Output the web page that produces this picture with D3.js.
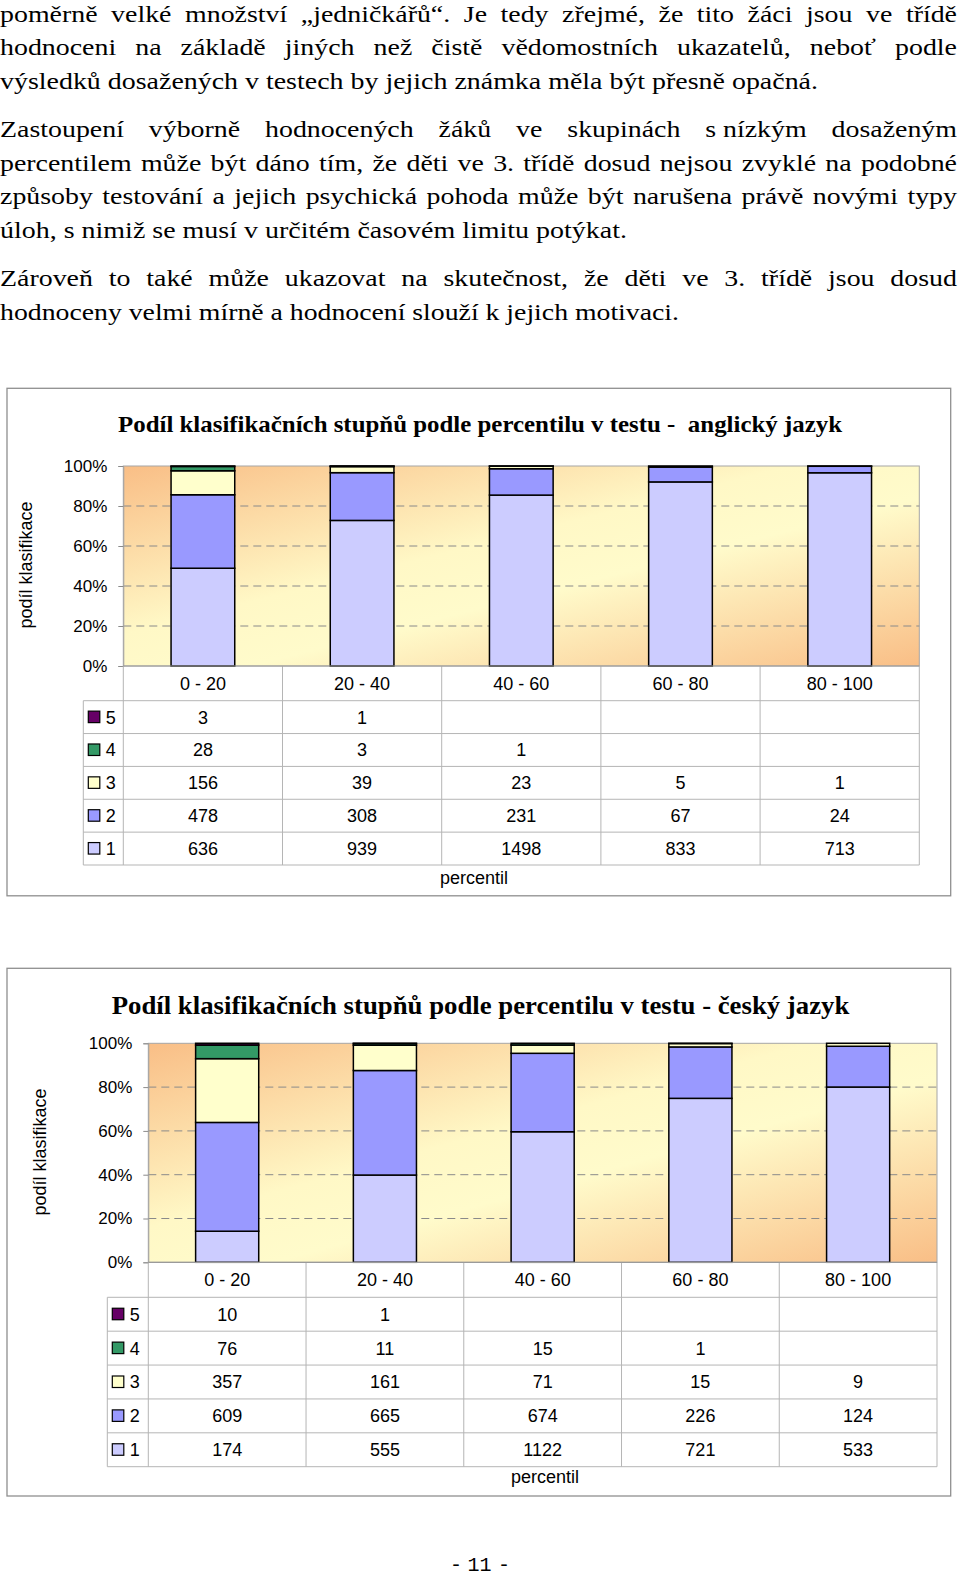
<!DOCTYPE html>
<html><head><meta charset="utf-8">
<script src="https://cdn.jsdelivr.net/npm/d3@7"></script>
<style>body{margin:0;background:#fff} svg{display:block}</style>
</head><body>
<svg id="page" width="960" height="1578"></svg>
<script>
// ---------------- data ----------------
const categories = ["0 - 20", "20 - 40", "40 - 60", "60 - 80", "80 - 100"];
const gradeKeys = ["1", "2", "3", "4", "5"];
const tableOrder = ["5", "4", "3", "2", "1"];

const enGrade1 = [636, 939, 1498, 833, 713];
const enGrade2 = [478, 308, 231, 67, 24];
const enGrade3 = [156, 39, 23, 5, 1];
const enGrade4 = [28, 3, 1, null, null];
const enGrade5 = [3, 1, null, null, null];

const csGrade1 = [174, 555, 1122, 721, 533];
const csGrade2 = [609, 665, 674, 226, 124];
const csGrade3 = [357, 161, 71, 15, 9];
const csGrade4 = [76, 11, 15, 1, null];
const csGrade5 = [10, 1, null, null, null];

const yTickValues = [0, 0.2, 0.4, 0.6, 0.8, 1];
const titleEn = "Podíl klasifikačních stupňů podle percentilu v testu -  anglický jazyk";
const titleCs = "Podíl klasifikačních stupňů podle percentilu v testu - český jazyk";
const yAxisTitle = "podíl klasifikace";
const xAxisTitle = "percentil";
const pageNumberParts = ["-", "11", "-"];

const bodyParagraphs = [
  ["poměrně velké množství „jedničkářů“. Je tedy zřejmé, že tito žáci jsou ve třídě",
   "hodnoceni na základě jiných než čistě vědomostních ukazatelů, neboť podle",
   "výsledků dosažených v testech by jejich známka měla být přesně opačná."],
  ["Zastoupení výborně hodnocených žáků ve skupinách s\u00A0nízkým dosaženým",
   "percentilem může být dáno tím, že děti ve 3. třídě dosud nejsou zvyklé na podobné",
   "způsoby testování a jejich psychická pohoda může být narušena právě novými typy",
   "úloh, s nimiž se musí v určitém časovém limitu potýkat."],
  ["Zároveň to také může ukazovat na skutečnost, že děti ve 3. třídě jsou dosud",
   "hodnoceny velmi mírně a hodnocení slouží k jejich motivaci."]
];

// ---------------- styles ----------------
const gradeColor = {"1": "#CCCCFF", "2": "#9999FF", "3": "#FFFFCC", "4": "#339966", "5": "#660066"};
const sans = "'Liberation Sans', Arial, sans-serif";
const serif = "'Liberation Serif', 'Times New Roman', serif";

const svg = d3.select("#page");
const defs = svg.append("defs");
const grad = defs.append("linearGradient").attr("id", "plotBg")
  .attr("x1", 0).attr("y1", 0).attr("x2", 1).attr("y2", 1);
grad.append("stop").attr("offset", 0).attr("stop-color", "#F9BE86");
grad.append("stop").attr("offset", 0.42).attr("stop-color", "#FFF8C6");
grad.append("stop").attr("offset", 0.58).attr("stop-color", "#FFFBCB");
grad.append("stop").attr("offset", 1).attr("stop-color", "#F9BE86");

// ---------------- body text ----------------
(function drawBody() {
  const lastLineWidths = [818, 627, 679];
  const fullWidth = 957;
  const g = svg.append("g").attr("font-family", serif).attr("font-size", 23).attr("fill", "#000");
  const meas = g.append("text").attr("x", -2000).attr("y", -100).style("white-space", "pre");
  const w = s => { meas.text(s); return meas.node().getComputedTextLength(); };
  const k = d3.mean(bodyParagraphs.map((p, i) => lastLineWidths[i] / w(p[p.length - 1])));
  let yb = 21.7;
  bodyParagraphs.forEach((p, pi) => {
    p.forEach((line, li) => {
      if (li === p.length - 1) {
        g.append("text").attr("x", 0).attr("y", yb)
          .attr("textLength", lastLineWidths[pi]).attr("lengthAdjust", "spacingAndGlyphs").text(line);
      } else {
        const words = line.split(" ");
        const ws = words.map(s => w(s) * k);
        const gap = (fullWidth - d3.sum(ws)) / (words.length - 1);
        let x = 0;
        words.forEach((s, j) => {
          g.append("text").attr("x", x).attr("y", yb)
            .attr("textLength", ws[j]).attr("lengthAdjust", "spacingAndGlyphs").text(s);
          x += ws[j] + gap;
        });
      }
      yb += 33.6;
    });
    yb += 14.7;
  });
  meas.remove();
})();

// ---------------- chart ----------------
function drawChart(cfg) {
  const series = cfg.series;
  const rows = categories.map((c, i) => {
    const r = {cat: c};
    gradeKeys.forEach(k => r[k] = series[k][i] || 0);
    return r;
  });
  const stacked = d3.stack().keys(gradeKeys).offset(d3.stackOffsetExpand)(rows);

  const g = svg.append("g");
  g.append("rect").attr("x", cfg.box[0]).attr("y", cfg.box[1]).attr("width", cfg.box[2]).attr("height", cfg.box[3])
    .attr("fill", "#fff").attr("stroke", "#8f8f8f").attr("stroke-width", 1.3);

  const x = d3.scaleBand().domain(categories).range([cfg.x0, cfg.x1]).padding(0);
  const y = d3.scaleLinear().domain([0, 1]).range([cfg.yBottom, cfg.yTop]);
  const barW = x.bandwidth() * 0.4;

  g.append("rect").attr("x", cfg.x0).attr("y", cfg.yTop).attr("width", cfg.x1 - cfg.x0).attr("height", cfg.yBottom - cfg.yTop)
    .attr("fill", "url(#plotBg)").attr("stroke", "#a6a6a6").attr("stroke-width", 1);

  g.append("g").selectAll("line").data(yTickValues.filter(d => d > 0 && d < 1)).join("line")
    .attr("x1", cfg.x0).attr("x2", cfg.x1).attr("y1", d => y(d)).attr("y2", d => y(d))
    .attr("stroke", "#8a8a8a").attr("stroke-width", 1).attr("stroke-dasharray", "8,5");

  const ax = g.append("g").attr("transform", `translate(${cfg.x0},0)`)
    .call(d3.axisLeft(y).tickValues(yTickValues).tickFormat(d3.format(".0%")).tickSize(5).tickPadding(11));
  ax.select(".domain").attr("stroke", "#a6a6a6");
  ax.selectAll(".tick line").attr("stroke", "#8a8a8a");
  ax.selectAll(".tick text").attr("font-family", sans).attr("font-size", 17).attr("fill", "#000");

  g.append("g").selectAll("g").data(stacked).join("g")
    .attr("fill", d => gradeColor[d.key])
    .selectAll("rect").data(d => d.filter(s => s[1] - s[0] > 0)).join("rect")
    .attr("x", d => x(d.data.cat) + (x.bandwidth() - barW) / 2)
    .attr("width", barW)
    .attr("y", d => y(d[1]))
    .attr("height", d => y(d[0]) - y(d[1]))
    .attr("stroke", "#000").attr("stroke-width", 1.5);

  g.append("text").attr("x", cfg.titleX).attr("y", cfg.titleY)
    .attr("font-family", serif).attr("font-weight", "bold").attr("font-size", cfg.titleSize)
    .style("white-space", "pre")
    .attr("textLength", cfg.titleW).attr("lengthAdjust", "spacingAndGlyphs")
    .text(cfg.title);

  g.append("text").attr("transform", `translate(${cfg.yTitle[0]},${cfg.yTitle[1]}) rotate(-90)`)
    .attr("text-anchor", "middle").attr("dy", "0.35em")
    .attr("font-family", sans).attr("font-size", 18).text(yAxisTitle);

  const hdrBottom = cfg.hdrBottom;
  const rowH = cfg.rowH;
  const tBottom = hdrBottom + rowH * tableOrder.length;
  const tg = g.append("g").attr("stroke", "#b5b5b5").attr("stroke-width", 1);
  d3.range(tableOrder.length + 1).forEach(i => {
    tg.append("line").attr("x1", cfg.tLeft).attr("x2", cfg.x1)
      .attr("y1", hdrBottom + i * rowH).attr("y2", hdrBottom + i * rowH);
  });
  const bounds = categories.map(c => x(c)).concat([cfg.x1]);
  bounds.forEach(bx => {
    tg.append("line").attr("x1", bx).attr("x2", bx).attr("y1", cfg.yBottom).attr("y2", tBottom);
  });
  tg.append("line").attr("x1", cfg.tLeft).attr("x2", cfg.tLeft).attr("y1", hdrBottom).attr("y2", tBottom);
  g.append("line").attr("x1", cfg.x0).attr("x2", cfg.x1).attr("y1", cfg.yBottom).attr("y2", cfg.yBottom)
    .attr("stroke", "#9a9a9a").attr("stroke-width", 1.2);

  g.append("g").selectAll("text").data(categories).join("text")
    .attr("x", d => x(d) + x.bandwidth() / 2)
    .attr("y", (cfg.yBottom + hdrBottom) / 2).attr("dy", "0.36em")
    .attr("text-anchor", "middle").attr("font-family", sans).attr("font-size", 18).text(d => d);

  tableOrder.forEach((key, ri) => {
    const cy = hdrBottom + ri * rowH + rowH / 2;
    g.append("rect").attr("x", cfg.tLeft + 5).attr("y", cy - 6).attr("width", 11.5).attr("height", 11.5)
      .attr("fill", gradeColor[key]).attr("stroke", "#000").attr("stroke-width", 1.2);
    g.append("text").attr("x", cfg.tLeft + 22.5).attr("y", cy).attr("dy", "0.36em")
      .attr("font-family", sans).attr("font-size", 18).text(key);
    g.append("g").selectAll("text").data(series[key].map((v, i) => ({v, c: categories[i]})).filter(d => d.v != null))
      .join("text")
      .attr("x", d => x(d.c) + x.bandwidth() / 2).attr("y", cy).attr("dy", "0.36em")
      .attr("text-anchor", "middle").attr("font-family", sans).attr("font-size", 18)
      .text(d => d.v);
  });

  g.append("text").attr("x", cfg.xTitle[0]).attr("y", cfg.xTitle[1]).attr("dy", "0.36em")
    .attr("text-anchor", "middle").attr("font-family", sans).attr("font-size", 18).text(xAxisTitle);
}

drawChart({
  series: {"1": enGrade1, "2": enGrade2, "3": enGrade3, "4": enGrade4, "5": enGrade5},
  box: [7, 388.3, 943.7, 507.5],
  x0: 123.3, x1: 919.3, yTop: 466, yBottom: 666,
  title: titleEn, titleX: 118, titleY: 431.5, titleW: 724, titleSize: 23,
  yTitle: [25.5, 565],
  tLeft: 83.3, hdrBottom: 700.7, rowH: 32.86,
  xTitle: [474, 878]
});

drawChart({
  series: {"1": csGrade1, "2": csGrade2, "3": csGrade3, "4": csGrade4, "5": csGrade5},
  box: [7, 968.3, 943.7, 527.7],
  x0: 148.3, x1: 937, yTop: 1043.3, yBottom: 1262.3,
  title: titleCs, titleX: 111.7, titleY: 1014, titleW: 737.6, titleSize: 25,
  yTitle: [40, 1152],
  tLeft: 107.3, hdrBottom: 1297.3, rowH: 33.88,
  xTitle: [545, 1477]
});

// page number
svg.append("g").attr("font-family", "'Liberation Mono', 'DejaVu Sans Mono', monospace")
  .attr("font-size", 20).attr("text-anchor", "middle")
  .selectAll("text").data(pageNumberParts).join("text")
  .attr("x", (d, i) => [456, 479.5, 504][i]).attr("y", 1571)
  .text(d => d);
</script>
</body></html>
